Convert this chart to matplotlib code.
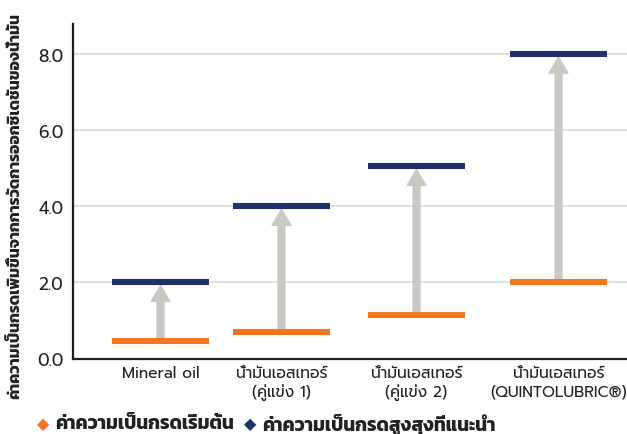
import matplotlib
matplotlib.use('Agg')
import matplotlib.pyplot as plt

# data
categories = ['Mineral oil', 'น้ำมันเอสเทอร์\n(คู่แข่ง 1)', 'น้ำมันเอสเทอร์\n(คู่แข่ง 2)',
              'น้ำมันเอสเทอร์\n(QUINTOLUBRIC®)']
initial_acid = [0.45, 0.70, 1.15, 2.0]
max_acid = [2.0, 4.0, 5.05, 8.0]
yticks = [0.0, 2.0, 4.0, 6.0, 8.0]
legend_labels = ['ค่าความเป็นกรดเริ่มต้น', 'ค่าความเป็นกรดสูงสุงที่แนะนำ']
ylabel = 'ค่าความเป็นกรดเพิ่มขึ้นจากการวัดการออกซิเดชันของน้ำมัน'

# layout (x axis runs in pixel units of the figure)
bar_x = [160.5, 281.5, 416.5, 558.5]
bar_w = 97

orange = '#f47521'
navy = '#22306a'
arrow_col = '#c9c9c4'
thai = ['Prompt', 'DejaVu Sans']
thai_bold = ['Kanit', 'DejaVu Sans']

W, H = 627, 435
fig = plt.figure(figsize=(W / 100, H / 100), dpi=100)
ax = fig.add_axes([73 / W, (H - 359.5) / H, (W - 73) / W, (359.5 - 25) / H])
ax.set_xlim(73, W)
ax.set_ylim(0, 8.79)

for y in yticks[1:]:
    ax.axhline(y, color='#dcdcdc', lw=1.3, zorder=1)

for x, lo, hi in zip(bar_x, initial_acid, max_acid):
    ax.annotate('', xy=(x, hi), xytext=(x, lo),
                arrowprops=dict(arrowstyle='simple,head_width=1.35,head_length=1.15,tail_width=0.5',
                                color=arrow_col, shrinkA=0, shrinkB=2.2, mutation_scale=10),
                zorder=2)

ax.hlines(initial_acid, [x - bar_w / 2 for x in bar_x], [x + bar_w / 2 for x in bar_x],
          colors=orange, lw=4.4, capstyle='butt', zorder=3)
ax.hlines(max_acid, [x - bar_w / 2 for x in bar_x], [x + bar_w / 2 for x in bar_x],
          colors=navy, lw=4.4, capstyle='butt', zorder=3)

for s in ['top', 'right']:
    ax.spines[s].set_visible(False)
for s in ['left', 'bottom']:
    ax.spines[s].set_color('#1e1e1e')
    ax.spines[s].set_linewidth(1.6)

ax.set_yticks(yticks, [f'{v:.1f}' for v in yticks])
ax.set_xticks(bar_x, categories)
ax.tick_params(axis='y', length=0, pad=7, labelsize=12.5, labelcolor='#222222')
ax.tick_params(axis='x', length=0, pad=5, labelsize=11.2, labelcolor='#222222')
for t in ax.get_yticklabels():
    t.set_family(thai)
for t in ax.get_xticklabels():
    t.set_family(thai)
    t.set_multialignment('center')
    t.set_linespacing(1.15)

fig.text(15 / W, 1 - 206 / H, ylabel, rotation=90, ha='center', va='center',
         family=thai_bold, fontweight='bold', fontsize=11.3, color='#222222')

# legend row
ly = 1 - 425 / H
fig.text(43 / W, ly, '◆', color=orange, family=['DejaVu Sans'], fontsize=11.5,
         ha='center', va='center')
fig.text(55 / W, ly, legend_labels[0], color='#222222', family=thai_bold,
         fontweight='bold', fontsize=13.5, ha='left', va='center')
fig.text(250 / W, ly, '◆', color=navy, family=['DejaVu Sans'], fontsize=11.5,
         ha='center', va='center')
fig.text(262 / W, ly, legend_labels[1], color='#222222', family=thai_bold,
         fontweight='bold', fontsize=13.5, ha='left', va='center')

fig.savefig('out.png', dpi=100)
